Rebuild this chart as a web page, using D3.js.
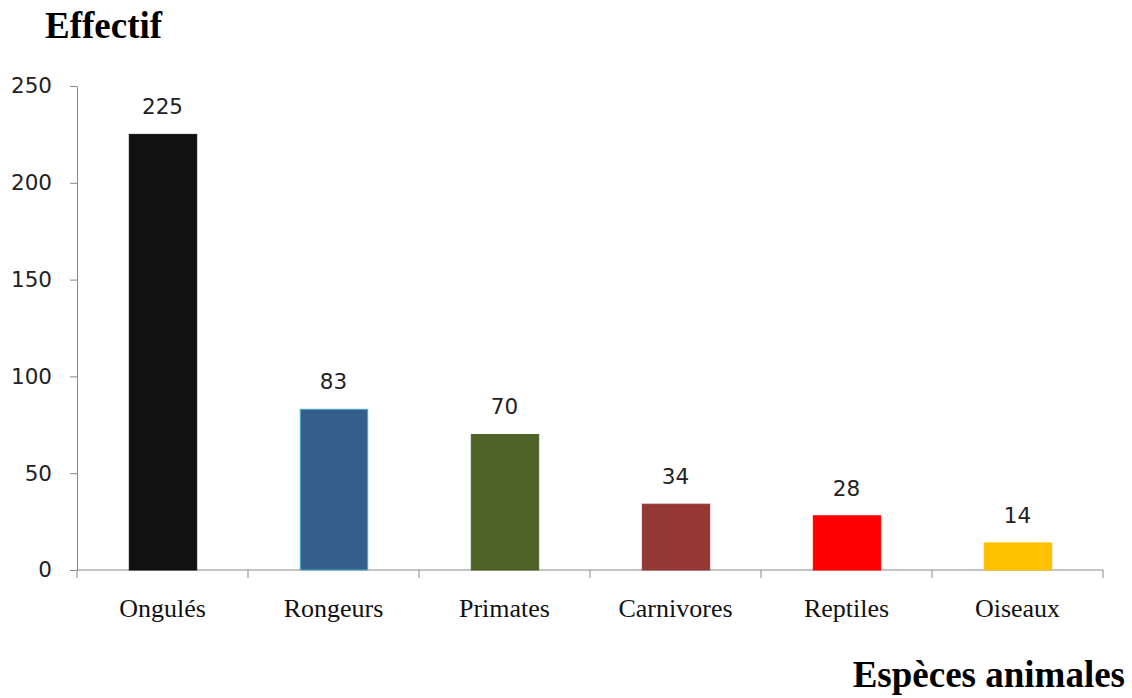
<!DOCTYPE html>
<html>
<head>
<meta charset="utf-8">
<script src="https://cdn.jsdelivr.net/npm/d3@7"></script>
<style>
  body { margin: 0; background: #fff; }
  .tick text { fill: #222; }
</style>
</head>
<body>
<div id="chart"></div>
<script>
// chart data
var categories = ["Ongulés", "Rongeurs", "Primates", "Carnivores", "Reptiles", "Oiseaux"];
var values = [225, 83, 70, 34, 28, 14];
var colors = ["#111111", "#355E8D", "#4F6228", "#953735", "#FF0000", "#FFC000"];
var strokes = ["#111111", "#4BACC6", "#4F6228", "#953735", "#FF0000", "#FFC000"];
var yTicks = [0, 50, 100, 150, 200, 250];

var w = 1132, h = 698;
var margin = {left: 77, right: 29, top: 86, bottom: 128};

var svg = d3.select("#chart").append("svg")
  .attr("width", w)
  .attr("height", h);

var x = d3.scaleBand()
  .domain(categories)
  .range([margin.left, w - margin.right])
  .paddingInner(0.6)
  .paddingOuter(0.3);

var y = d3.scaleLinear()
  .domain([0, 250])
  .range([h - margin.bottom, margin.top]);

// y axis
var yAxis = svg.append("g")
  .attr("transform", "translate(" + margin.left + ",0)")
  .call(d3.axisLeft(y).tickValues(yTicks).tickSize(7).tickSizeOuter(0).tickPadding(18));
yAxis.selectAll("path, line").attr("stroke", "#888");
yAxis.selectAll("text")
  .style("font-family", "'DejaVu Sans', Verdana, sans-serif")
  .style("font-size", "21.5px");

// x axis with ticks between categories
var xAxis = svg.append("g")
  .attr("transform", "translate(0," + y(0) + ")");
xAxis.append("line")
  .attr("x1", margin.left).attr("x2", w - margin.right)
  .attr("stroke", "#888");
xAxis.selectAll(".sep")
  .data(d3.range(categories.length + 1))
  .enter().append("line")
  .attr("x1", function(i) { return margin.left + i * (w - margin.left - margin.right) / categories.length; })
  .attr("x2", function(i) { return margin.left + i * (w - margin.left - margin.right) / categories.length; })
  .attr("y1", 0).attr("y2", 8)
  .attr("stroke", "#888");
xAxis.selectAll(".cat")
  .data(categories)
  .enter().append("text")
  .attr("x", function(d) { return x(d) + x.bandwidth() / 2; })
  .attr("y", 47)
  .attr("text-anchor", "middle")
  .style("font-family", "'Liberation Serif', 'Times New Roman', serif")
  .style("font-size", "26px")
  .attr("fill", "#111")
  .text(function(d) { return d; });

// bars
svg.selectAll(".bar")
  .data(values)
  .enter().append("rect")
  .attr("x", function(d, i) { return x(categories[i]) + 1; })
  .attr("y", function(d) { return y(d); })
  .attr("width", x.bandwidth() - 1)
  .attr("height", function(d) { return y(0) - y(d); })
  .attr("fill", function(d, i) { return colors[i]; })
  .attr("stroke", function(d, i) { return strokes[i]; })
  .attr("stroke-width", 1);

// value labels
svg.selectAll(".val")
  .data(values)
  .enter().append("text")
  .attr("x", function(d, i) { return x(categories[i]) + x.bandwidth() / 2; })
  .attr("y", function(d) { return y(d) - 20; })
  .attr("text-anchor", "middle")
  .style("font-family", "'DejaVu Sans', Verdana, sans-serif")
  .style("font-size", "21.5px")
  .attr("fill", "#222")
  .text(function(d) { return d; });

// axis titles
svg.append("text")
  .attr("x", 45).attr("y", 38)
  .style("font-family", "'Liberation Serif', 'Times New Roman', serif")
  .style("font-size", "37px")
  .style("font-weight", "bold")
  .text("Effectif");

svg.append("text")
  .attr("x", 1125).attr("y", 687)
  .attr("text-anchor", "end")
  .style("font-family", "'Liberation Serif', 'Times New Roman', serif")
  .style("font-size", "37px")
  .style("font-weight", "bold")
  .text("Espèces animales");
</script>
</body>
</html>
